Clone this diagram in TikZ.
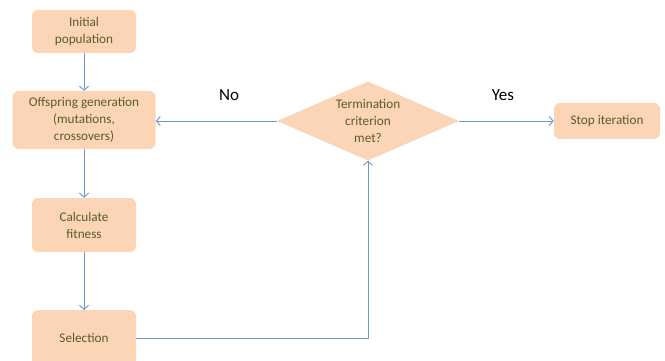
\documentclass[tikz,border=0pt]{standalone}
\usepackage{fontspec}
\setmainfont{Carlito}
\usetikzlibrary{shapes.geometric,arrows.meta}
\definecolor{boxfill}{HTML}{FBD5B5}
\definecolor{boxtext}{HTML}{5A5C2A}
\definecolor{arrowc}{HTML}{6E95CF}
\tikzset{
  stepbox/.style={draw=none,fill=boxfill,rounded corners=6pt,align=center,text=boxtext,font=\fontsize{13.2}{17}\selectfont,inner sep=0pt},
  decision/.style={diamond,draw=none,fill=boxfill,align=center,text=boxtext,font=\fontsize{13.2}{17}\selectfont,inner sep=0pt,aspect=2.3},
  conn/.style={draw=arrowc,line width=0.9pt,-{Straight Barb[length=4pt,width=9pt,line width=0.9pt]}},
  lab/.style={font=\fontsize{17}{19}\selectfont,text=black}
}
\begin{document}
\begin{tikzpicture}[x=1pt,y=-1pt]
\useasboundingbox (0,0) rectangle (665,361);
\node[stepbox,minimum width=104pt,minimum height=43pt] (init) at (84,31.5) {Initial\\population};
\node[stepbox,minimum width=143pt,minimum height=58pt] (off) at (84,120) {Offspring generation\\(mutations,\\crossovers)};
\node[stepbox,minimum width=104pt,minimum height=54pt] (fit) at (84,225) {Calculate\\fitness};
\node[stepbox,minimum width=104pt,minimum height=56pt,anchor=north] (sel) at (84,310) {Selection};
\node[decision,minimum width=182pt,minimum height=79pt] (term) at (368,121) {Termination\\criterion\\met?};
\node[stepbox,minimum width=106pt,minimum height=36pt] (stop) at (607,121) {Stop iteration};
\node[lab] (no) at (229,95) {No};
\node[lab] (yes) at (503,95) {Yes};
\draw[conn] (init) -- (off);
\draw[conn] (off) -- (fit);
\draw[conn] (fit) -- (sel);
\draw[conn] (sel.east |- 0,338) -| (term.south);
\draw[conn] (term.west) -- (off.east |- term.west);
\draw[conn] (term.east) -- (stop.west);
\end{tikzpicture}
\end{document}
